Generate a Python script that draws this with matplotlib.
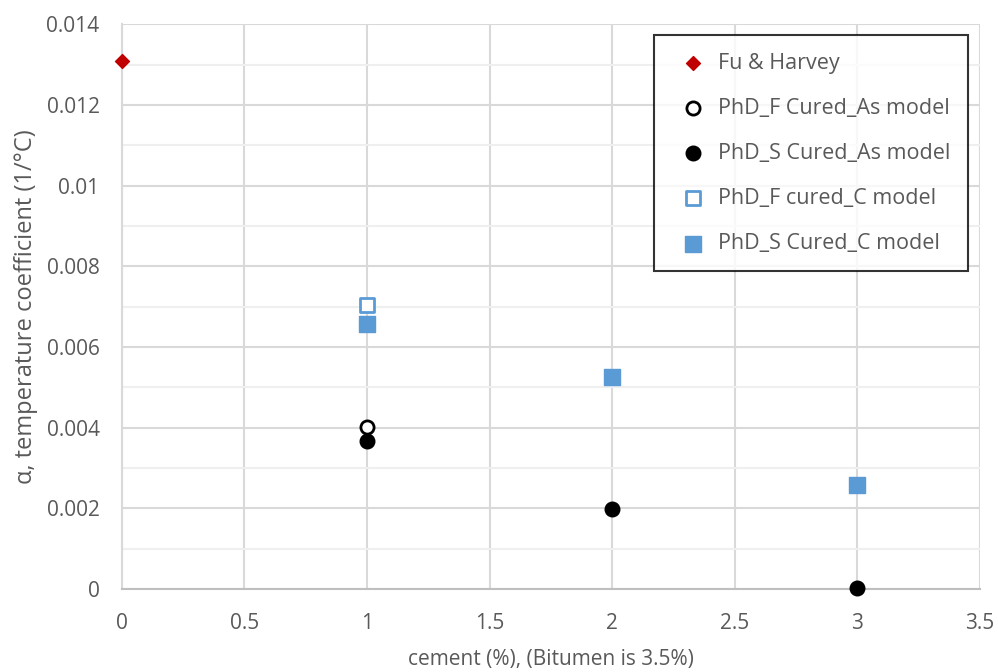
import matplotlib
matplotlib.use("Agg")
import matplotlib.pyplot as plt
from matplotlib.ticker import MultipleLocator

plt.rcParams['font.family'] = ['Open Sans', 'DejaVu Sans']

# data
fu_x = [0]
fu_y = [0.01308]
f_as_x = [1]
f_as_y = [0.00401]
s_as_x = [1, 2, 3]
s_as_y = [0.00367, 0.00198, 0.00003]
f_c_x = [1]
f_c_y = [0.00704]
s_c_x = [1, 2, 3]
s_c_y = [0.00657, 0.00525, 0.00258]

blue = '#5b9bd5'
grey = '#595959'

fig = plt.figure(figsize=(9.98, 6.72), dpi=100)
ax = fig.add_axes([0.122, 0.1235, 0.86, 0.8405])

ax.scatter(fu_x, fu_y, marker='D', s=50, color='#c00000', label='Fu & Harvey', zorder=3, clip_on=False)
ax.scatter(f_as_x, f_as_y, marker='o', s=90, facecolor='white', edgecolor='black', linewidth=2,
           label='PhD_F Cured_As model', zorder=3)
ax.scatter(s_as_x, s_as_y, marker='o', s=110, color='black', label='PhD_S Cured_As model', zorder=3, clip_on=False)
ax.scatter(f_c_x, f_c_y, marker='s', s=110, facecolor='white', edgecolor=blue, linewidth=2,
           label='PhD_F cured_C model', zorder=3)
ax.scatter(s_c_x, s_c_y, marker='s', s=130, color=blue, label='PhD_S Cured_C model', zorder=3)

ax.set_xlim(0, 3.5)
ax.set_ylim(0, 0.014)
ax.xaxis.set_major_locator(MultipleLocator(0.5))
ax.yaxis.set_major_locator(MultipleLocator(0.002))
ax.yaxis.set_minor_locator(MultipleLocator(0.001))
ax.set_xticks([0, 0.5, 1, 1.5, 2, 2.5, 3, 3.5])
ax.set_xticklabels(['0', '0.5', '1', '1.5', '2', '2.5', '3', '3.5'])
ax.set_yticks([0, 0.002, 0.004, 0.006, 0.008, 0.01, 0.012, 0.014])
ax.set_yticklabels(['0', '0.002', '0.004', '0.006', '0.008', '0.01', '0.012', '0.014'])

ax.grid(which='major', color='#d9d9d9', linewidth=1.5)
ax.grid(which='minor', axis='y', color='#efefef', linewidth=1.5)
ax.set_axisbelow(True)
ax.tick_params(which='both', length=0, labelsize=15, labelcolor=grey)
ax.tick_params(axis='x', pad=17)
ax.tick_params(axis='y', pad=16)

for side in ['top', 'right']:
    ax.spines[side].set_visible(False)
ax.spines['left'].set_color('#d9d9d9')
ax.spines['left'].set_linewidth(1.5)
ax.spines['bottom'].set_color('#bfbfbf')
ax.spines['bottom'].set_linewidth(1.5)

ax.set_xlabel('cement (%), (Bitumen is 3.5%)', fontsize=15, color=grey, labelpad=11)
ax.set_ylabel('α, temperature coefficient (1/°C)', fontsize=17, color=grey, labelpad=6)

leg = ax.legend(loc='upper right', bbox_to_anchor=(0.986, 0.98), fontsize=15.5, frameon=True,
                fancybox=False, edgecolor='black', labelspacing=1.12, handletextpad=0.2,
                borderpad=0.8, handlelength=2.0, scatterpoints=1, borderaxespad=0)
leg.get_frame().set_linewidth(1.5)
for t in leg.get_texts():
    t.set_color(grey)

fig.savefig('out.png', dpi=100)
